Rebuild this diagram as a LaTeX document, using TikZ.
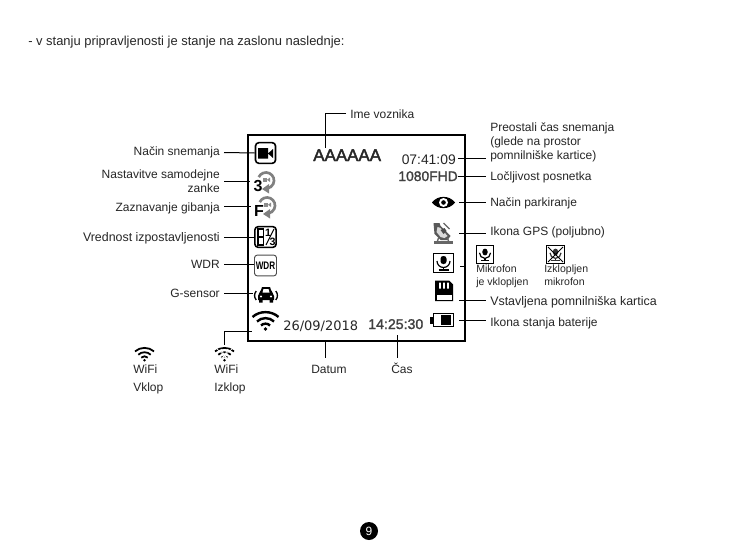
\documentclass[tikz,border=0pt]{standalone}
\usepackage{graphicx}
\usepackage{fontspec}
\setmainfont{Liberation Sans}
\newfontfamily\dv{DejaVu Sans}
\newfontfamily\fb[FakeBold=1.5]{Liberation Sans}
\newfontfamily\fc[FakeBold=2.4]{Liberation Sans}
\usetikzlibrary{calc}
\tikzset{
  lbl/.style={font=\fontsize{9}{10.6}\selectfont,inner sep=0pt,text=black!85,align=left},
  lblw/.style={lbl,font=\fontsize{9}{13.2}\selectfont},
  lblr/.style={lbl,align=right},
  small/.style={font=\fontsize{7.9}{9.75}\selectfont,inner sep=0pt,text=black!85,align=left},
  lead/.style={draw=black,line width=0.75pt},
  disp/.style={font=\fontsize{10.4}{12}\selectfont,inner sep=0pt,text=black!85},
  dispb/.style={font=\fb\fontsize{10.4}{12}\selectfont,inner sep=0pt,text=black!75},
}
\newcommand{\wifiicon}[4]{% x y scale width
  \begin{scope}[shift={(#1,#2)},scale=#3,line cap=butt]
    \draw[line width=#4] (-13,-9) .. controls (-6,-15.5) and (6,-15.5) .. (13,-9);
    \draw[line width=#4] (-8.5,-4.5) .. controls (-4,-9) and (4,-9) .. (8.5,-4.5);
    \draw[line width=#4] (-4.5,-0.5) .. controls (-2,-3) and (2,-3) .. (4.5,-0.5);
    \fill (0,3) circle (1.9);
  \end{scope}}
\newcommand{\loopicon}[3]{% x y letter
  \begin{scope}[shift={(#1,#2)}]
    \draw[black!50,line width=2pt] (205:8) arc (205:440:8);
    \fill[black!50] (-4,8.5) -- (3,3.5) -- (3,13) -- cycle;
    \fill[black!45] (-3,-3) rectangle (1,1.5);
    \fill[black!45] (1,-0.7) -- (4,-3) -- (4,1.5) -- cycle;
    \node[inner sep=0pt,font=\bfseries\fontsize{12}{12}\selectfont] at (-8,5.5) {#3};
  \end{scope}}
\newcommand{\micicon}[4]{% x y scale colour
  \begin{scope}[shift={(#1,#2)},scale=#3]
    \fill[#4,rounded corners=2pt] (-3,-6) rectangle (3,2);
    \draw[#4,line width=0.9pt] (-6.5,-1) arc (180:0:6.5);
    \draw[#4,line width=0.9pt] (0,5.5) -- (0,8) (-5,8) -- (5,8);
  \end{scope}}
\begin{document}
\begin{tikzpicture}[x=0.75pt,y=-0.75pt]
\useasboundingbox (0,0) rectangle (737,556);
\fill[white] (0,0) rectangle (737,556);

\node[lbl,anchor=base west,font=\fontsize{9.7}{12}\selectfont] (title) at (28,46) {- v stanju pripravljenosti je stanje na zaslonu naslednje:};

% screen
\node[draw=black,line width=1.5pt,minimum width=163pt,minimum height=154.5pt,inner sep=0pt,anchor=north west] (screen) at (247,134) {};

% display texts
\node[dispb,font=\fc\fontsize{12.7}{14}\selectfont,text=black!85,anchor=base west] (driver) at (313,161) {AAAAAA};
\node[disp,anchor=base east] (clock) at (456,164) {07:41:09};
\node[dispb,anchor=base east] (res) at (458,181) {1080FHD};
\node[disp,font=\dv\fontsize{9.75}{12}\selectfont,anchor=base west] (date) at (283,330) {26/09/2018};
\node[dispb,font=\fb\fontsize{10.6}{12}\selectfont,anchor=base west] (time) at (368,329) {14:25:30};

% left icons
\node[draw=black,line width=1.2pt,rounded corners=2.5pt,minimum width=15pt,minimum height=15.5pt,inner sep=0pt] (rec) at (265.5,153) {};
\fill (258,148) rectangle (268,158.5) (268,153.5) -- (273,149) -- (273,158) -- cycle;
\coordinate (loop1) at (250,181);
\loopicon{266}{180.5}{3}
\coordinate (loop2) at (251,206);
\loopicon{267}{205.5}{F}
\node[draw=black,line width=1.2pt,rounded corners=2.5pt,minimum width=16pt,minimum height=15.5pt,inner sep=0pt] (ev) at (265.5,237) {};
\draw[line width=1.1pt] (258,229) rectangle (263.5,245) (258,237) -- (263.5,237);
\node[inner sep=0pt,font=\bfseries\fontsize{8}{8}\selectfont] at (268,232.5) {1};
\node[inner sep=0pt,font=\bfseries\fontsize{8}{8}\selectfont] at (272.5,241.5) {3};
\draw[line width=0.7pt] (266,245) -- (274,229);
\node[draw=black!70,line width=0.7pt,rounded corners=2pt,minimum width=16.5pt,minimum height=15.5pt,inner sep=0pt] (wdr) at (265.5,265.5) {\scalebox{0.78}[1.05]{\bfseries\fontsize{7.8}{8}\selectfont WDR}};
% G-sensor
\coordinate (gs) at (253,293.5);
\begin{scope}[shift={(266,295)}]
  \fill (-8,1) .. controls (-7.5,-3) and (-5,-3) .. (-4,-8) -- (4,-8) .. controls (5,-3) and (7.5,-3) .. (8,1) -- (8,5) -- (-8,5) -- cycle;
  \fill (-7,5) rectangle (-3.5,7.5) (3.5,5) rectangle (7,7.5);
  \fill[white] (-2.5,-6) -- (2.5,-6) -- (3.5,-2.5) -- (-3.5,-2.5) -- cycle;
  \fill[white] (-5,1.5) circle (1.1) (5,1.5) circle (1.1);
  \draw[line width=1pt] (-9.8,-4) .. controls (-12,-1) and (-12,2) .. (-9.8,5);
  \draw[line width=1pt] (9.8,-4) .. controls (12,-1) and (12,2) .. (9.8,5);
\end{scope}
\wifiicon{265.5}{326}{1}{1.8pt}
\coordinate (wifi) at (252,331);

% right icons
\coordinate (eye) at (459,202);
\begin{scope}[shift={(443.5,202.5)}]
  \fill (-11.5,0) .. controls (-6,-7.5) and (6,-7.5) .. (11.5,0) .. controls (6,7.5) and (-6,7.5) .. (-11.5,0) -- cycle;
  \fill[white] (0,0) circle (4.5);
  \fill (0,0) circle (2.3);
\end{scope}
\coordinate (gps) at (459,233);
\begin{scope}[shift={(442.5,233)}]
  \fill[black!65] (-9,-10) -- (-3,-10) -- (-2,-7) -- (8,3) -- (5,7) -- (-2,7) -- (-8,1) -- cycle;
  \fill[black!15] (-5,-6) -- (-2,-5) -- (5,3) -- (2,5) -- (-2,4) -- (-6,-1) -- cycle;
  \fill[black!70] (-2,-3) -- (2,-5) -- (4,-2) -- (1,1) -- cycle;
  \draw[black!60,line width=1pt] (1,-10) -- (7,-4);
  \fill[black!60] (-9,8) rectangle (10,10.5);
  \draw[black!60,line width=1pt] (-4,5) -- (-5,8) (5,5) -- (6,8);
\end{scope}
\node[draw=black,line width=0.8pt,minimum width=15.5pt,minimum height=14.7pt,inner sep=0pt] (mic) at (443.5,263) {};
\micicon{443.5}{262}{1}{black}
\coordinate (mictick) at (460,266);
% SD card
\begin{scope}[shift={(444,290.5)}]
  \fill (-9,-10) -- (5,-10) -- (9,-6) -- (9,10.5) -- (-9,10.5) -- cycle;
  \fill[white] (-7.5,4) rectangle (7.5,9);
  \fill[white] (-5,-8) rectangle (-3.2,-2) (-1,-8) rectangle (0.8,-2) (3,-8) rectangle (4.8,-2);
\end{scope}
\coordinate (sd) at (459,300);
% battery
\node[draw=black,line width=1.2pt,minimum width=15pt,minimum height=10pt,inner sep=0pt] (bat) at (443.5,320) {};
\fill (429.5,316.5) rectangle (433,323.5);
\fill (441,315) rectangle (451,325);
\coordinate (batend) at (459,320);

% labels left
\node[lblr,anchor=base east] (l1) at (220,155) {Način snemanja};
\node[lblr,anchor=east] (l2) at (220,181) {Nastavitve samodejne\\zanke};
\node[lblr,anchor=base east] (l3) at (220,211) {Zaznavanje gibanja};
\node[lblr,anchor=base east,font=\fontsize{9.3}{10.6}\selectfont] (l4) at (220,241) {Vrednost izpostavljenosti};
\node[lblr,anchor=base east] (l5) at (220,268) {WDR};
\node[lblr,anchor=base east] (l6) at (220,297) {G-sensor};

\node[lbl,anchor=base west] (top) at (350,118) {Ime voznika};
\node[lbl,anchor=north west] (r1) at (490,122) {Preostali čas snemanja\\(glede na prostor\\pomnilniške kartice)};
\node[lbl,anchor=base west] (r2) at (490,180) {Ločljivost posnetka};
\node[lbl,anchor=base west] (r3) at (490,206) {Način parkiranje};
\node[lbl,anchor=base west] (r4) at (490,235) {Ikona GPS (poljubno)};
\node[lbl,anchor=base west,font=\fontsize{9.32}{10.6}\selectfont] (r5) at (490,305) {Vstavljena pomnilniška kartica};
\node[lbl,anchor=base west] (r6) at (490,326) {Ikona stanja baterije};
\node[lbl,anchor=base west] (b1) at (311,373) {Datum};
\node[lbl,anchor=base west] (b2) at (391,373) {Čas};

\node[small,anchor=north west] (m1) at (476,264.5) {Mikrofon\\je vklopljen};
\node[small,anchor=north west] (m2) at (544,264.5) {Izklopljen\\mikrofon};
\node[draw=black,line width=0.8pt,minimum size=13pt,inner sep=0pt] (micon) at (485,254.5) {};
\micicon{485}{253.7}{0.85}{black}
\node[draw=black,line width=0.8pt,minimum size=13pt,inner sep=0pt] (micoff) at (555.5,254.5) {};
\micicon{555.5}{253.7}{0.85}{black!80}
\draw[line width=0.6pt] (548,247) -- (563,262) (563,247) -- (548,262);

% wifi legend
\wifiicon{144.5}{358}{0.73}{1.35pt}
\node[lblw,anchor=north west] (won) at (133,364.5) {WiFi\\Vklop};
\wifiicon{224.5}{358}{0.73}{1.35pt}
\draw[white,line width=0.5pt] (217,349) -- (232,362) (232,349) -- (217,362) (221,349) -- (228,362) (228,349) -- (221,362);
\node[lblw,anchor=north west] (woff) at (214,364.5) {WiFi\\Izklop};
\coordinate (woffc) at (224,345);

% connectors
\draw[lead] (224,152.5) -- (rec.west);
\draw[lead] (224,181) -- (loop1);
\draw[lead] (224,206) -- (loop2);
\draw[lead] (224,237) -- (ev.west);
\draw[lead] (224,264) -- (wdr.west |- 0,264);
\draw[lead] (224,293.5) -- (gs);
\draw[lead] (woffc) -- (woffc |- wifi) -- (wifi);
\draw[lead] (346,114) -- (325,114) -- (325,148);
\draw[lead,line width=1.2pt] (clock.east |- 0,158.5) ++(2,0) -- (486,158.5);
\draw[lead] (res.east |- 0,176) -- (486,176);
\draw[lead] (eye) -- (486,202);
\draw[lead] (gps) -- (486,233);
\draw[lead] (mictick) -- (466,266);
\draw[lead] (sd) -- (486,300);
\draw[lead] (batend) -- (486,320);
\draw[lead] (325,340) -- (325,358);
\draw[lead] (397,335) -- (397,358);

% page number
\node[circle,fill=black,minimum size=13.5pt,inner sep=0pt,text=white,font=\fontsize{9}{10}\selectfont] (pg) at (369,531) {9};
\end{tikzpicture}
\end{document}
